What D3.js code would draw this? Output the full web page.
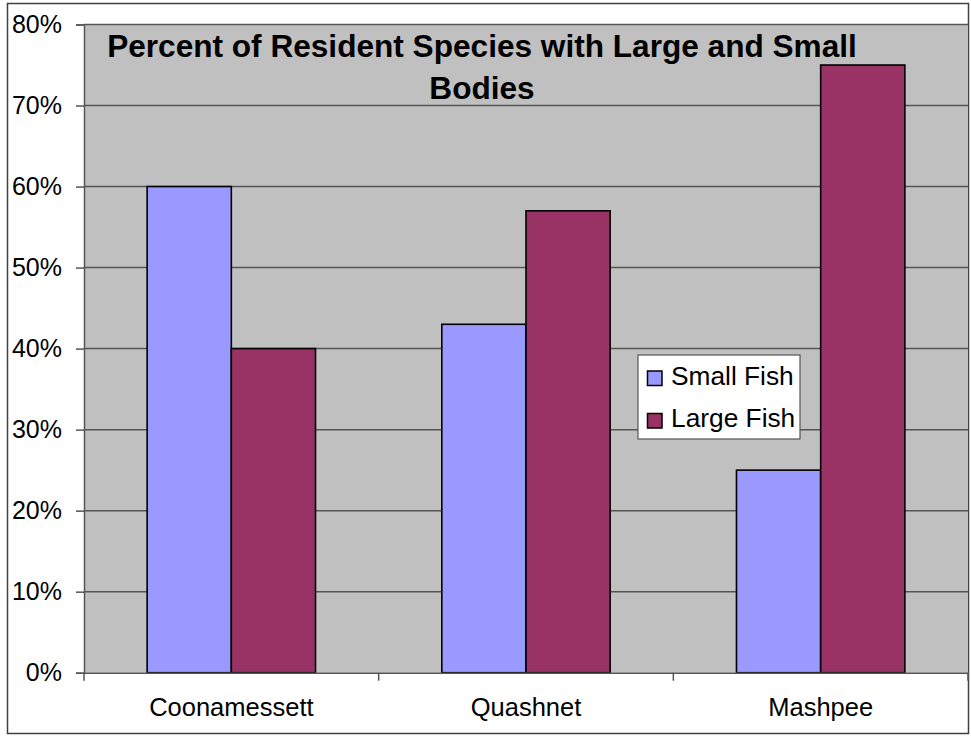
<!DOCTYPE html>
<html>
<head>
<meta charset="utf-8">
<script src="https://cdn.jsdelivr.net/npm/d3@7"></script>
<style>
  html, body { margin: 0; padding: 0; background: #fff; }
  svg { display: block; }
  text { font-family: Arial, "Liberation Sans", sans-serif; }
</style>
</head>
<body>
<svg id="chart" width="971" height="736"></svg>
<script>
// Rivers and the share of resident species by body size
const categories = ["Coonamessett", "Quashnet", "Mashpee"];
const seriesNames = ["Small Fish", "Large Fish"];
const smallFish = [60, 43, 25];
const largeFish = [40, 57, 75];
const yTicks = [0, 10, 20, 30, 40, 50, 60, 70, 80];
const titleLines = ["Percent of Resident Species with Large and Small", "Bodies"];
const colors = ["#9999FF", "#993366"];

const FONT = "Arial, 'Liberation Sans', sans-serif";
const svg = d3.select("#chart");

// outer chart frame
svg.append("rect")
  .attr("x", 7.5).attr("y", 3.5)
  .attr("width", 961).attr("height", 730)
  .attr("fill", "#fff").attr("stroke", "#404040").attr("stroke-width", 1.5);

const plot = { left: 84, top: 24.5, right: 968, bottom: 672.7 };

const x = d3.scaleBand().domain(categories).range([plot.left, plot.right]).paddingInner(0).paddingOuter(0);
const y = d3.scaleLinear().domain([0, 80]).range([plot.bottom, plot.top]);

// plot area
svg.append("rect")
  .attr("x", plot.left).attr("y", plot.top)
  .attr("width", plot.right - plot.left).attr("height", plot.bottom - plot.top)
  .attr("fill", "#C0C0C0");

// gridlines
svg.append("g").selectAll("line").data(yTicks.filter(d => d > 0)).join("line")
  .attr("x1", plot.left).attr("x2", plot.right)
  .attr("y1", d => y(d)).attr("y2", d => y(d))
  .attr("stroke", "#555").attr("stroke-width", 1.5);

// bars: two per category, gap width 150%
const barW = x.bandwidth() / 3.5;
const groupOffset = (x.bandwidth() - 2 * barW) / 2;
const series = [smallFish, largeFish];
series.forEach((vals, si) => {
  svg.append("g").selectAll("rect").data(categories).join("rect")
    .attr("x", (c) => x(c) + groupOffset + si * barW)
    .attr("y", (c, i) => y(vals[i]))
    .attr("width", barW)
    .attr("height", (c, i) => y(0) - y(vals[i]))
    .attr("fill", colors[si])
    .attr("stroke", "#000").attr("stroke-width", 1.6);
});

// y axis
const yAxis = d3.axisLeft(y).tickValues(yTicks).tickFormat(d => d + "%").tickSize(8).tickPadding(14);
const gy = svg.append("g").attr("transform", `translate(${plot.left},0)`).call(yAxis);
gy.attr("font-family", FONT).attr("font-size", 25);
gy.select(".domain").attr("stroke", "#555").attr("stroke-width", 1.5);
gy.selectAll(".tick line").attr("stroke", "#555").attr("stroke-width", 1.5);
gy.selectAll(".tick text").attr("fill", "#000").attr("dy", "0.3em");

// x axis
const xAxis = d3.axisBottom(x).tickSize(0).tickPadding(25);
const gx = svg.append("g").attr("transform", `translate(0,${plot.bottom})`).call(xAxis);
gx.attr("font-family", FONT).attr("font-size", 25.5);
gx.select(".domain").attr("stroke", "#555").attr("stroke-width", 1.5);
gx.selectAll(".tick text").attr("fill", "#000");
// category separators below the axis
const bounds = categories.map(c => x(c)).concat([plot.right]);
gx.append("g").selectAll("line").data(bounds).join("line")
  .attr("x1", d => d).attr("x2", d => d).attr("y1", 0).attr("y2", 8)
  .attr("stroke", "#555").attr("stroke-width", 1.5);

// title
svg.append("g").selectAll("text").data(titleLines).join("text")
  .attr("x", 482).attr("y", (d, i) => 56.5 + i * 42.5)
  .attr("text-anchor", "middle")
  .attr("font-family", FONT)
  .attr("font-size", 31.6).attr("font-weight", "bold").attr("fill", "#000")
  .text(d => d);

// legend
const lg = svg.append("g").attr("transform", "translate(638,355)");
lg.append("rect").attr("width", 162).attr("height", 84)
  .attr("fill", "#fff").attr("stroke", "#555").attr("stroke-width", 1.2);
seriesNames.forEach((name, i) => {
  const row = lg.append("g").attr("transform", `translate(0,${23 + i * 42.5})`);
  row.append("rect").attr("x", 9.5).attr("y", -7).attr("width", 14.5).attr("height", 14.5)
    .attr("fill", colors[i]).attr("stroke", "#000").attr("stroke-width", 1.5);
  row.append("text").attr("x", 33).attr("y", 6.5)
    .attr("font-family", FONT)
    .attr("font-size", 26.3).attr("fill", "#000").text(name);
});
</script>
</body>
</html>
